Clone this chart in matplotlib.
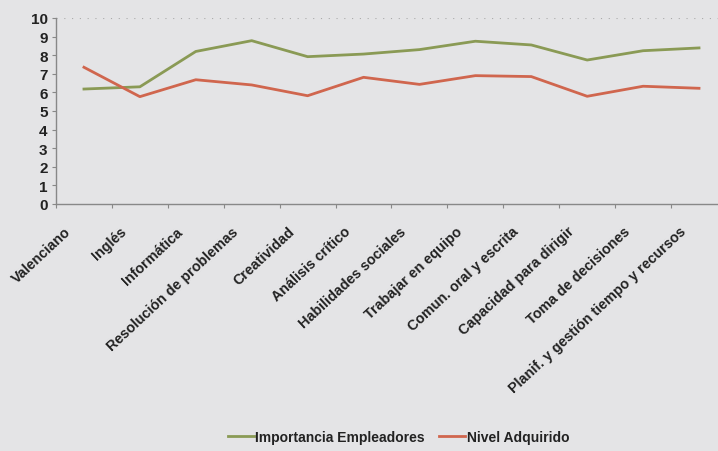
import matplotlib
matplotlib.use("Agg")
import matplotlib.pyplot as plt

categories = ["Valenciano", "Inglés", "Informática", "Resolución de problemas",
              "Creatividad", "Análisis crítico", "Habilidades sociales",
              "Trabajar en equipo", "Comun. oral y escrita", "Capacidad para dirigir",
              "Toma de decisiones", "Planif. y gestión tiempo y recursos"]
importancia = [6.18, 6.30, 8.20, 8.78, 7.92, 8.06, 8.30, 8.75, 8.55, 7.74, 8.24, 8.39]
nivel = [7.35, 5.77, 6.68, 6.40, 5.82, 6.81, 6.43, 6.90, 6.85, 5.79, 6.33, 6.22]
yticks = list(range(0, 11))

plt.rcParams['font.family'] = ['Liberation Sans', 'DejaVu Sans']
bg = '#e4e4e6'
fig = plt.figure(figsize=(7.18, 4.52), dpi=100, facecolor=bg)
ax = fig.add_axes([0.078, 0.5465, 0.9345, 0.4115])
ax.set_facecolor(bg)

x = list(range(len(categories)))
ax.plot(x, importancia, color='#8a9a55', lw=2, label='Importancia Empleadores')
ax.plot(x, nivel, color='#d0664e', lw=2, label='Nivel Adquirido')

ax.set_xlim(-0.5, len(categories) - 0.5)
ax.set_ylim(0, 10)
ax.set_yticks(yticks)
ax.set_yticklabels([str(v) for v in yticks], fontsize=11, fontweight='bold', color='#222222')
ax.set_xticks([i - 0.5 for i in range(len(categories) + 1)])
ax.set_xticklabels([''] * (len(categories) + 1))
ax.tick_params(axis='x', length=3, color='#888888', direction='out')
ax.tick_params(axis='y', length=3, color='#888888', pad=3)

for i, cat in zip(x, categories):
    ax.annotate(cat, xy=(i, 0), xycoords=('data', 'axes fraction'),
                xytext=(-15, -25), textcoords='offset pixels',
                rotation=43, ha='right', va='center', rotation_mode='anchor',
                fontsize=10.3, fontweight='bold', color='#222222', annotation_clip=False)

ax.axhline(10, color='#aaaaaa', lw=0.8, ls=(0, (1, 6)))
for s in ['top', 'right']:
    ax.spines[s].set_visible(False)
for s in ['left', 'bottom']:
    ax.spines[s].set_color('#888888')
    ax.spines[s].set_linewidth(1)

leg = fig.legend(loc='center', bbox_to_anchor=(0.555, 0.032), ncol=2, frameon=False,
                 prop={'weight': 'bold', 'size': 10}, handlelength=1.9,
                 handletextpad=0.1, columnspacing=1.0)
for t in leg.get_texts():
    t.set_color('#222222')

fig.savefig('out.png', dpi=100, facecolor=bg)
